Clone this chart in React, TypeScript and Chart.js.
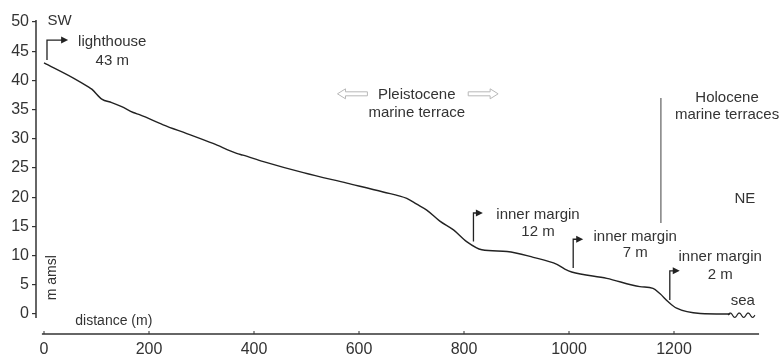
import React, { useEffect, useRef } from "react";
import { Chart, registerables } from "chart.js";

Chart.register(...registerables);

// Profile data (distance in m, elevation in m amsl)
const distance = [0, 56, 86, 91, 110, 129, 148, 170, 183, 227, 272, 322, 367, 379, 418, 494, 577, 646, 691, 710, 729, 754, 780, 805, 834, 882, 932, 977, 992, 1005, 1072, 1135, 1160, 1173, 1189, 1205, 1250, 1307];
const elevation = [43.0, 40.4, 38.8, 38.5, 36.8, 36.2, 35.5, 34.5, 34.1, 32.4, 30.9, 29.2, 27.5, 27.2, 26.1, 24.2, 22.4, 20.9, 19.8, 18.8, 17.8, 15.9, 14.4, 12.4, 11.0, 10.7, 9.7, 8.5, 7.7, 7.2, 6.1, 4.7, 4.4, 3.5, 2.1, 1.0, 0.1, 0.0];

const xTicks = [0, 200, 400, 600, 800, 1000, 1200];
const yTicks = [0, 5, 10, 15, 20, 25, 30, 35, 40, 45, 50];

// Annotation texts
const marginLabels = ["inner margin", "inner margin", "inner margin"];
const marginHeights = ["12 m", "7 m", "2 m"];
const marginX = [818, 1008, 1192];

const FONT = "'Liberation Sans', Arial, sans-serif";
const INK = "#333";

export default function App() {
  const ref = useRef<HTMLCanvasElement | null>(null);

  useEffect(() => {
    if (!ref.current) return;

    const annot = {
      id: "annot",
      afterDatasetsDraw(chart: any) {
        const { ctx } = chart;
        const xs = chart.scales.x;
        const ys = chart.scales.y;
        const px = (v: number) => xs.getPixelForValue(v);
        const py = (v: number) => ys.getPixelForValue(v);
        ctx.save();

        // axes
        ctx.strokeStyle = INK;
        ctx.lineWidth = 1.5;
        ctx.beginPath();
        ctx.moveTo(xs.left, py(50.35));
        ctx.lineTo(xs.left, py(-0.7));
        ctx.stroke();
        ctx.beginPath();
        ctx.moveTo(px(-4), ys.bottom);
        ctx.lineTo(px(1362), ys.bottom);
        ctx.stroke();
        ctx.lineWidth = 1;
        xTicks.forEach((t) => {
          ctx.beginPath();
          ctx.moveTo(px(t), ys.bottom);
          ctx.lineTo(px(t), ys.bottom - 3);
          ctx.stroke();
        });

        const text = (s: string, xv: number, yv: number, size = 15, align: CanvasTextAlign = "center") => {
          ctx.font = `${size}px ${FONT}`;
          ctx.fillStyle = INK;
          ctx.textAlign = align;
          ctx.textBaseline = "middle";
          ctx.fillText(s, px(xv), py(yv));
        };

        const elbow = (xv: number, yb: number, yt: number, tip: number) => {
          const x0 = px(xv), y0 = py(yb), y1 = py(yt), xt = px(tip);
          ctx.strokeStyle = "#222";
          ctx.fillStyle = "#222";
          ctx.lineWidth = 1.3;
          ctx.beginPath();
          ctx.moveTo(x0, y0);
          ctx.lineTo(x0, y1);
          ctx.lineTo(xt - 6, y1);
          ctx.stroke();
          ctx.beginPath();
          ctx.moveTo(xt, y1);
          ctx.lineTo(xt - 7, y1 - 3.5);
          ctx.lineTo(xt - 7, y1 + 3.5);
          ctx.closePath();
          ctx.fill();
        };

        const hollow = (xa: number, xb: number, yv: number, dir: number) => {
          const a = px(xa), b = px(xb), yc = py(yv);
          ctx.strokeStyle = "#b8b8b8";
          ctx.lineWidth = 1;
          ctx.beginPath();
          if (dir < 0) {
            ctx.moveTo(b, yc - 2);
            ctx.lineTo(a + 8, yc - 2);
            ctx.lineTo(a + 8, yc - 5);
            ctx.lineTo(a, yc);
            ctx.lineTo(a + 8, yc + 5);
            ctx.lineTo(a + 8, yc + 2);
            ctx.lineTo(b, yc + 2);
          } else {
            ctx.moveTo(a, yc - 2);
            ctx.lineTo(b - 8, yc - 2);
            ctx.lineTo(b - 8, yc - 5);
            ctx.lineTo(b, yc);
            ctx.lineTo(b - 8, yc + 5);
            ctx.lineTo(b - 8, yc + 2);
            ctx.lineTo(a, yc + 2);
          }
          ctx.closePath();
          ctx.stroke();
        };

        // SW / NE
        text("SW", 29.5, 50.2);
        text("NE", 1335, 19.7);

        // lighthouse
        elbow(5.7, 43.5, 46.9, 46);
        text("lighthouse", 130, 46.6);
        text("43 m", 130, 43.3);

        // Pleistocene
        text("Pleistocene", 710, 37.5);
        text("marine terrace", 710, 34.4);
        hollow(559, 616, 37.7, -1);
        hollow(808, 865, 37.7, 1);

        // Holocene
        text("Holocene", 1301, 37.0);
        text("marine terraces", 1301, 34.1);
        ctx.strokeStyle = "#808080";
        ctx.lineWidth = 1.5;
        ctx.beginPath();
        ctx.moveTo(px(1175), py(37));
        ctx.lineTo(px(1175), py(15.6));
        ctx.stroke();

        // inner margins
        const arrows = [
          { yb: 12.4, yt: 17.3, tip: 836, tx: 941, y1: 17.0, y2: 14.1 },
          { yb: 7.9, yt: 12.8, tip: 1027, tx: 1126, y1: 13.2, y2: 10.4 },
          { yb: 2.4, yt: 7.4, tip: 1211, tx: 1288, y1: 9.8, y2: 6.7 },
        ];
        arrows.forEach((a, i) => {
          elbow(marginX[i], a.yb, a.yt, a.tip);
          text(marginLabels[i], a.tx, a.y1);
          text(marginHeights[i], a.tx, a.y2);
        });

        // sea
        text("sea", 1331, 2.2);
        ctx.strokeStyle = "#222";
        ctx.lineWidth = 1.2;
        ctx.beginPath();
        const sx0 = px(1303), sx1 = px(1354), sy = py(-0.2);
        for (let i = 0; i <= 60; i++) {
          const t = i / 60;
          const xx = sx0 + (sx1 - sx0) * t;
          const yy = sy - 2.2 * Math.sin(t * Math.PI * 6);
          if (i === 0) ctx.moveTo(xx, yy);
          else ctx.lineTo(xx, yy);
        }
        ctx.stroke();

        // axis titles
        text("distance (m)", 133, -1.3, 14);
        ctx.save();
        ctx.translate(px(14.7), py(6.2));
        ctx.rotate(-Math.PI / 2);
        ctx.font = `14px ${FONT}`;
        ctx.fillStyle = INK;
        ctx.textAlign = "center";
        ctx.textBaseline = "middle";
        ctx.fillText("m amsl", 0, 0);
        ctx.restore();

        ctx.restore();
      },
    };

    const chart = new Chart(ref.current, {
      type: "line",
      data: {
        datasets: [
          {
            data: distance.map((d, i) => ({ x: d, y: elevation[i] })),
            borderColor: "#222",
            borderWidth: 1.4,
            pointRadius: 0,
            fill: false,
            cubicInterpolationMode: "monotone",
          },
        ],
      },
      options: {
        animation: false,
        responsive: false,
        devicePixelRatio: 1,
        layout: { padding: { top: 20, right: 21, left: 0, bottom: 0 } },
        plugins: { legend: { display: false }, tooltip: { enabled: false } },
        scales: {
          x: {
            type: "linear",
            min: -15.24,
            max: 1363.8,
            afterBuildTicks: (s: any) => {
              s.ticks = xTicks.map((v) => ({ value: v }));
            },
            afterFit: (s: any) => {
              s.height = 26;
            },
            grid: { display: false, drawTicks: false },
            border: { display: false },
            ticks: {
              padding: 6,
              color: INK,
              font: { family: FONT, size: 16 },
              maxRotation: 0,
              autoSkip: false,
              callback: (v: any) => String(v),
            },
          },
          y: {
            type: "linear",
            min: -3.42,
            max: 50.34,
            afterBuildTicks: (s: any) => {
              s.ticks = yTicks.map((v) => ({ value: v }));
            },
            afterFit: (s: any) => {
              s.width = 36;
            },
            grid: { display: true, drawOnChartArea: false, drawTicks: true, tickLength: 4, color: INK, lineWidth: 1.2 },
            border: { display: false },
            ticks: {
              padding: 3,
              color: INK,
              font: { family: FONT, size: 16 },
              autoSkip: false,
              callback: (v: any) => String(v),
            },
          },
        },
      },
      plugins: [annot],
    } as any);

    return () => chart.destroy();
  }, []);

  return (
    <div style={{ position: "absolute", left: 0, top: 0, width: 781, height: 360, background: "#fff" }}>
      <canvas ref={ref} width={781} height={360} />
    </div>
  );
}
